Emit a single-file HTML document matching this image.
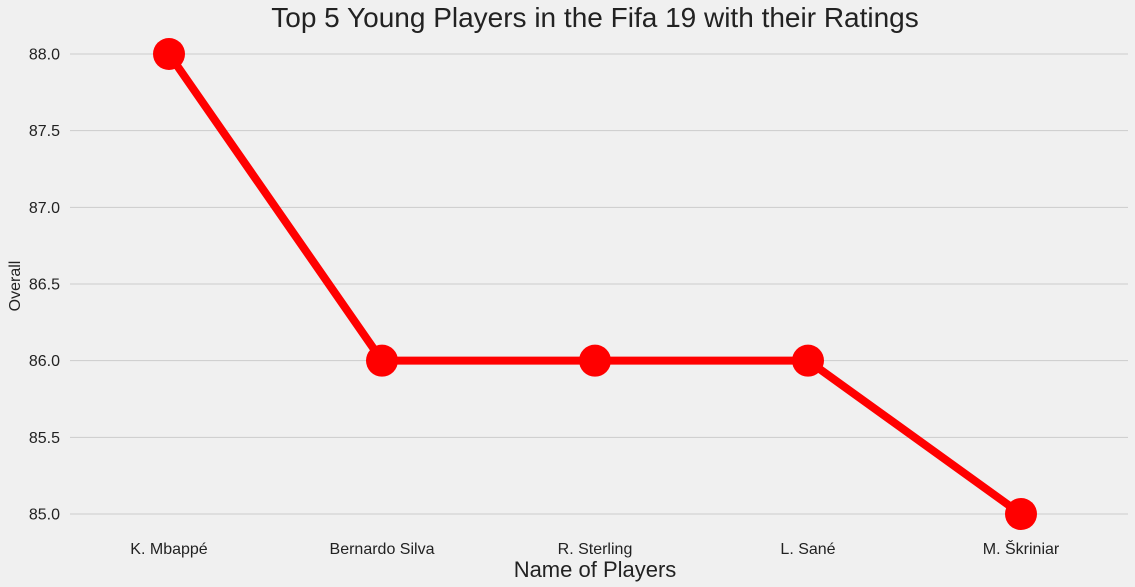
<!DOCTYPE html>
<html><head><meta charset="utf-8"><style>
html,body{margin:0;padding:0;background:#f0f0f0;}
svg{display:block;font-family:"Liberation Sans","DejaVu Sans",sans-serif;}
</style></head><body>
<svg id="chart" width="1135" height="587" viewBox="0 0 1135 587" xmlns="http://www.w3.org/2000/svg">
<rect width="1135" height="587" fill="#f0f0f0"/>
<text x="595" y="27" text-anchor="middle" font-size="28" fill="#222">Top 5 Young Players in the Fifa 19 with their Ratings</text>
<g id="grid"></g>
<g id="yticks"></g>
<g id="xticks"></g>
<g id="series"></g>
<text x="595" y="577" text-anchor="middle" font-size="22" fill="#222">Name of Players</text>
<text transform="translate(20,286) rotate(-90)" text-anchor="middle" font-size="16" fill="#222">Overall</text>
</svg>
<script>
const categories = ["K. Mbappé","Bernardo Silva","R. Sterling","L. Sané","M. Škriniar"];
const overall = [88, 86, 86, 86, 85];
const yTicks = [85.0, 85.5, 86.0, 86.5, 87.0, 87.5, 88.0];

const NS = "http://www.w3.org/2000/svg";
const yMin = 85, yMax = 88, yTop = 54, yBot = 514;
const xFirst = 169, xStep = 213;
function yScale(v){ return yBot - (v - yMin) / (yMax - yMin) * (yBot - yTop); }
function xScale(i){ return xFirst + i * xStep; }
function mk(tag, attrs, parent){ const e = document.createElementNS(NS, tag); for (const k in attrs) e.setAttribute(k, attrs[k]); parent.appendChild(e); return e; }

const grid = document.getElementById('grid'), yt = document.getElementById('yticks'), xt = document.getElementById('xticks'), ser = document.getElementById('series');
yTicks.forEach(v => {
  const y = yScale(v);
  const l = mk('line', {x1:70, x2:1128, y1:y, y2:y, stroke:'#cbcbcb', 'stroke-width':1}, grid);
  
  
  const t = mk('text', {x:60, y:y+5.5, 'text-anchor':'end', 'font-size':16, fill:'#222'}, yt);
  t.textContent = v.toFixed(1);
  
  
});
categories.forEach((c, i) => {
  const t = mk('text', {x:xScale(i), y:554, 'text-anchor':'middle', 'font-size':16, fill:'#222'}, xt);
  t.textContent = c;
  
  
});
const pts = overall.map((v, i) => xScale(i) + ',' + yScale(v)).join(' ');
const line = mk('polyline', {points:pts, fill:'none', stroke:'#ff0000', 'stroke-width':8, 'stroke-linejoin':'round'}, ser);


overall.forEach((v, i) => {
  const c = mk('circle', {cx:xScale(i), cy:yScale(v), r:16, fill:'#ff0000'}, ser);
  
  
});
</script>
</body></html>
